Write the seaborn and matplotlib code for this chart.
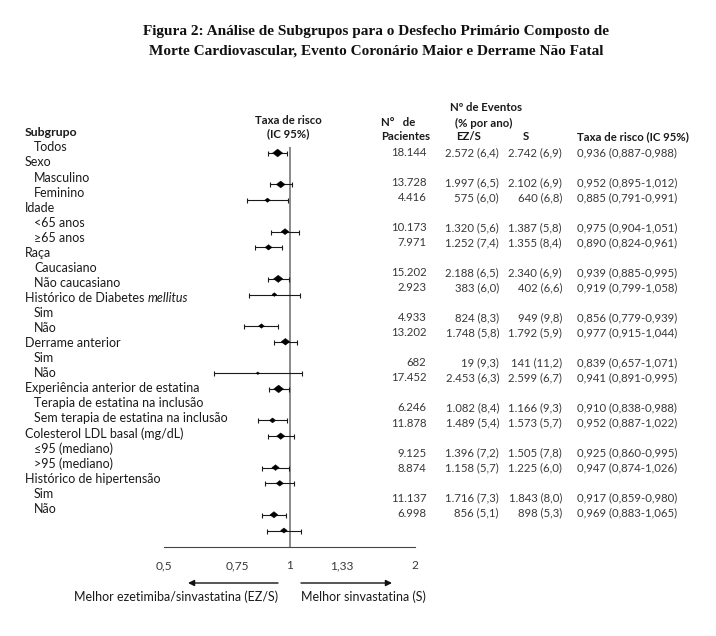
import numpy as np
import pandas as pd
import matplotlib
matplotlib.use("Agg")
import matplotlib.pyplot as plt
import seaborn as sns

# ---- data ----
# row labels, 0 = group header, 1 = subgroup with values
labels = [
    ("Todos", 1),
    ("Sexo", 0), ("Masculino", 1), ("Feminino", 1),
    ("Idade", 0), ("<65 anos", 1), ("\u226565 anos", 1),
    ("Raça", 0), ("Caucasiano", 1), ("Não caucasiano", 1),
    ("Histórico de Diabetes ", 0), ("Sim", 1), ("Não", 1),
    ("Derrame anterior", 0), ("Sim", 1), ("Não", 1),
    ("Experiência anterior de estatina", 0),
    ("Terapia de estatina na inclusão", 1),
    ("Sem terapia de estatina na inclusão", 1),
    ("Colesterol LDL basal (mg/dL)", 0),
    ("\u226495 (mediano)", 1), (">95 (mediano)", 1),
    ("Histórico de hipertensão", 0), ("Sim", 1), ("Não", 1),
]

pacientes = [18144, 13728, 4416, 10173, 7971, 15202, 2923, 4933, 13202,
             682, 17452, 6246, 11878, 9125, 8874, 11137, 6998]
ezs_eventos = [2572, 1997, 575, 1320, 1252, 2188, 383, 824, 1748,
               19, 2453, 1082, 1489, 1396, 1158, 1716, 856]
ezs_taxa = [6.4, 6.5, 6.0, 5.6, 7.4, 6.5, 6.0, 8.3, 5.8,
            9.3, 6.3, 8.4, 5.4, 7.2, 5.7, 7.3, 5.1]
s_eventos = [2742, 2102, 640, 1387, 1355, 2340, 402, 949, 1792,
             141, 2599, 1166, 1573, 1505, 1225, 1843, 898]
s_taxa = [6.9, 6.9, 6.8, 5.8, 8.4, 6.9, 6.6, 9.8, 5.9,
          11.2, 6.7, 9.3, 5.7, 7.8, 6.0, 8.0, 5.3]
hr = [0.936, 0.952, 0.885, 0.975, 0.890, 0.939, 0.919, 0.856, 0.977,
      0.839, 0.941, 0.910, 0.952, 0.925, 0.947, 0.917, 0.969]
hr_lo = [0.887, 0.895, 0.791, 0.904, 0.824, 0.885, 0.799, 0.779, 0.915,
         0.657, 0.891, 0.838, 0.887, 0.860, 0.874, 0.859, 0.883]
hr_hi = [0.988, 1.012, 0.991, 1.051, 0.961, 0.995, 1.058, 0.939, 1.044,
         1.071, 0.995, 0.988, 1.022, 0.995, 1.026, 0.980, 1.065]

xticks = [0.5, 0.75, 1, 1.33, 2]
xtick_labels = ["0,5", "0,75", "1", "1,33", "2"]

titulo = ["Figura 2: Análise de Subgrupos para o Desfecho Primário Composto de",
          "Morte Cardiovascular, Evento Coronário Maior e Derrame Não Fatal"]


def br_int(v):
    return f"{v:,}".replace(",", ".")


def br_num(v, nd):
    return f"{v:.{nd}f}".replace(".", ",")


# row index of each subgroup in the label list
rows = [i for i, (_, ind) in enumerate(labels) if ind == 1]

df = pd.DataFrame({
    "row": rows,
    "pacientes": pacientes,
    "hr": hr,
    "lo": hr_lo,
    "hi": hr_hi,
})

# ---- figure ----
sns.set_style("white")
plt.rcParams["font.family"] = ["Lato", "DejaVu Sans"]

W, H = 716, 636
fig = plt.figure(figsize=(W / 100, H / 100), dpi=100)
fig.patch.set_facecolor("white")

bg = fig.add_axes([0, 0, 1, 1])
bg.set_xlim(0, W)
bg.set_ylim(H, 0)
bg.axis("off")
bg.patch.set_alpha(0)

FS = 8.2      # numbers / headers
FS_LAB = 9.0  # row labels
LAB_C = "#1a1a1a"
NUM_C = "#383838"

# pixel grids of the three separate parts of the original
LAB_Y0, LAB_DY = 147.4, 15.06
TXT_Y0, TXT_DY = 152.3, 15.04
MK_Y0, MK_DY = 153.0, 15.73

# title
for line, y in zip(titulo, [31.5, 51.5]):
    bg.text(376, y, line, ha="center", va="center", family="Liberation Serif",
            weight="bold", fontsize=11, color="#111111")

# headers
bold = dict(weight="bold", fontsize=FS, color=LAB_C, va="center")
bg.text(25, LAB_Y0 - LAB_DY, "Subgrupo", ha="left", **dict(bold, fontsize=8.8))
bg.text(288, 120.7, "Taxa de risco", ha="center", **bold)
bg.text(288, 133.5, "(IC 95%)", ha="center", **bold)
bg.text(381, 122, "N\u00b0   de", ha="left", **bold)
bg.text(381, 137, "Pacientes", ha="left", **bold)
bg.text(486.5, 107.3, "Nº de Eventos", ha="center", **bold)
bg.text(484, 123, "(% por ano)", ha="center", **bold)
bg.text(469, 137, "EZ/S", ha="center", **bold)
bg.text(525.5, 137, "S", ha="center", **bold)
bg.text(577, 137, "Taxa de risco (IC 95%)", ha="left", **bold)

# row labels
for i, (txt, ind) in enumerate(labels):
    y = LAB_Y0 + LAB_DY * i
    t = bg.text(34 if ind else 25, y, txt, ha="left", va="center",
                fontsize=FS_LAB, color=LAB_C)
    if txt.startswith("Histórico de Diabetes"):
        bg.annotate("mellitus", xy=(1, 0), xycoords=t, ha="left", va="bottom",
                    fontsize=FS_LAB, color=LAB_C, style="italic")

# numeric columns
for j, k in enumerate(rows):
    y = TXT_Y0 + TXT_DY * k
    bg.text(426.5, y, br_int(pacientes[j]), ha="right", va="center",
            fontsize=FS, color=NUM_C)
    bg.text(499, y, f"{br_int(ezs_eventos[j])} ({br_num(ezs_taxa[j], 1)})",
            ha="right", va="center", fontsize=FS, color=NUM_C)
    bg.text(562, y, f"{br_int(s_eventos[j])} ({br_num(s_taxa[j], 1)})",
            ha="right", va="center", fontsize=FS, color=NUM_C)
    bg.text(577, y, f"{br_num(hr[j], 3)} ({br_num(hr_lo[j], 3)}-{br_num(hr_hi[j], 3)})",
            ha="left", va="center", fontsize=FS, color=NUM_C)

# forest plot axes
x0, x1 = 164, 415.3
ytop, ybot = 147, 546.7
ax = fig.add_axes([x0 / W, 1 - ybot / H, (x1 - x0) / W, (ybot - ytop) / H])
ax.patch.set_alpha(0)
ax.set_xscale("log")
ax.set_xlim(0.5, 2)
ax.set_ylim((ybot - MK_Y0) / MK_DY, (ytop - MK_Y0) / MK_DY)

ax.axvline(1, color="#8a8a8a", lw=1.4, zorder=1)
ax.errorbar(df["hr"], df["row"], xerr=[df["hr"] - df["lo"], df["hi"] - df["hr"]],
            fmt="none", ecolor="#1a1a1a", elinewidth=0.8, capsize=1.8,
            capthick=0.8, zorder=2)
diamond = [(-1, 0), (0, 0.78), (1, 0), (0, -0.78), (-1, 0)]
sns.scatterplot(data=df, x="hr", y="row", size="pacientes", sizes=(6, 52),
                marker=diamond, color="black", edgecolor="black", linewidth=0.3,
                legend=False, ax=ax, zorder=3)

ax.set_xticks(xticks)
ax.set_xticklabels(xtick_labels)
ax.xaxis.set_minor_locator(matplotlib.ticker.NullLocator())
ax.set_yticks([])
ax.set_xlabel("")
ax.set_ylabel("")
for s in ["top", "right", "left"]:
    ax.spines[s].set_visible(False)
ax.spines["bottom"].set_color("#444444")
ax.spines["bottom"].set_linewidth(0.8)
ax.tick_params(axis="x", direction="out", length=4.3, width=0.8,
               color="#444444", pad=5.5, labelsize=8.6, labelcolor=NUM_C)

# direction arrows
arw = dict(arrowstyle="-|>", color="#111111", lw=1, mutation_scale=9,
           shrinkA=0, shrinkB=0)
bg.annotate("", xy=(188, 583), xytext=(278, 583), arrowprops=arw)
bg.annotate("", xy=(392, 583), xytext=(301, 583), arrowprops=arw)
bg.text(278, 597, "Melhor ezetimiba/sinvastatina (EZ/S)", ha="right",
        va="center", fontsize=9.0, color=LAB_C)
bg.text(301, 597, "Melhor sinvastatina (S)", ha="left", va="center",
        fontsize=9.0, color=LAB_C)

fig.savefig("out.png", dpi=100)
